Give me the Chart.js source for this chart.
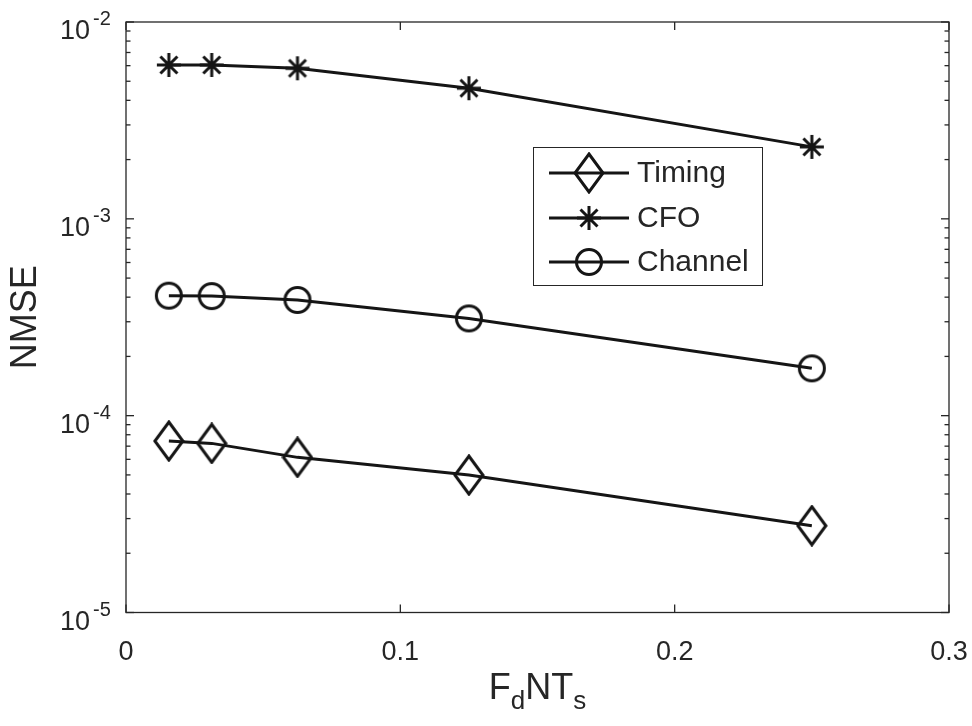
<!DOCTYPE html>
<html>
<head>
<meta charset="utf-8">
<title>NMSE vs FdNTs</title>
<script src="https://cdn.jsdelivr.net/npm/chart.js@4.4.1/dist/chart.umd.min.js"></script>
<style>
  html, body { margin: 0; padding: 0; background: #fff; }
  canvas { display: block; }
</style>
</head>
<body>
<canvas id="nmseChart" width="972" height="726"></canvas>
<script>
// normalized Doppler values on the x axis
const xValues = [1 / 64, 1 / 32, 1 / 16, 1 / 8, 1 / 4];

// NMSE of each estimate
const timingNmse = [7.43e-5, 7.23e-5, 6.14e-5, 4.99e-5, 2.76e-5];
const cfoNmse = [6.05e-3, 6.05e-3, 5.82e-3, 4.61e-3, 2.32e-3];
const channelNmse = [4.07e-4, 4.05e-4, 3.87e-4, 3.12e-4, 1.74e-4];

const seriesNames = ["Timing", "CFO", "Channel"];
const xTicks = [0, 0.1, 0.2, 0.3];
const xTickLabels = ["0", "0.1", "0.2", "0.3"];
const yExponents = [-5, -4, -3, -2];

const axisColor = "#262626";
const lineColor = "#151515";
const fontFamily = "'Liberation Sans', Arial, Helvetica, sans-serif";

// open markers drawn once on small canvases, used as point styles
function makeMarker(kind) {
  const c = document.createElement("canvas");
  // size first: resizing a canvas resets its context state
  if (kind === "diamond") { c.width = 32; c.height = 42; }
  else if (kind === "star") { c.width = 30; c.height = 30; }
  else { c.width = 34; c.height = 34; }
  const g = c.getContext("2d");
  g.strokeStyle = lineColor;
  g.lineWidth = 3;
  g.lineJoin = "miter";
  g.beginPath();
  if (kind === "diamond") {
    g.moveTo(16, 2); g.lineTo(30, 21); g.lineTo(16, 40); g.lineTo(2, 21);
    g.closePath();
  } else if (kind === "star") {
    const r = 12, cx = 15, cy = 15, d = r * Math.SQRT1_2;
    g.moveTo(cx, cy - r); g.lineTo(cx, cy + r);
    g.moveTo(cx - r, cy); g.lineTo(cx + r, cy);
    g.moveTo(cx - d, cy - d); g.lineTo(cx + d, cy + d);
    g.moveTo(cx - d, cy + d); g.lineTo(cx + d, cy - d);
  } else {
    g.arc(17, 17, 12.5, 0, Math.PI * 2);
  }
  g.stroke();
  return c;
}

const markers = [makeMarker("diamond"), makeMarker("star"), makeMarker("circle")];
const seriesValues = [timingNmse, cfoNmse, channelNmse];

const datasets = seriesNames.map((name, k) => ({
  label: name,
  data: xValues.map((x, i) => ({ x: x, y: seriesValues[k][i] })),
  borderColor: lineColor,
  borderWidth: 3,
  pointStyle: markers[k],
  pointRadius: 12,
  fill: false,
  tension: 0
}));

function segment(ctx, x1, y1, x2, y2) {
  ctx.beginPath();
  ctx.moveTo(x1, y1);
  ctx.lineTo(x2, y2);
  ctx.stroke();
}

// box, inward ticks, tick labels, axis titles and the legend
const axesPlugin = {
  id: "matlabAxes",
  afterDraw(chart) {
    const { ctx, chartArea: a } = chart;
    const xs = chart.scales.x, ys = chart.scales.y;
    ctx.save();

    ctx.strokeStyle = axisColor;
    ctx.lineWidth = 1.3;
    ctx.strokeRect(a.left, a.top, a.right - a.left, a.bottom - a.top);

    xTicks.forEach(v => {
      const px = xs.getPixelForValue(v);
      segment(ctx, px, a.bottom, px, a.bottom - 8);
      segment(ctx, px, a.top, px, a.top + 8);
    });

    const eLast = yExponents[yExponents.length - 1];
    for (let e = yExponents[0]; e <= eLast; e++) {
      for (let m = 1; m <= 9; m++) {
        if (e === eLast && m > 1) break;
        const py = ys.getPixelForValue(m * Math.pow(10, e));
        const len = m === 1 ? 8 : 4.5;
        segment(ctx, a.left, py, a.left + len, py);
        segment(ctx, a.right, py, a.right - len, py);
      }
    }

    ctx.fillStyle = axisColor;

    // x tick labels
    ctx.font = "27px " + fontFamily;
    ctx.textAlign = "center";
    ctx.textBaseline = "alphabetic";
    xTicks.forEach((v, i) => {
      ctx.fillText(xTickLabels[i], xs.getPixelForValue(v), a.bottom + 47.5);
    });

    // y tick labels as powers of ten
    yExponents.forEach(e => {
      const py = ys.getPixelForValue(Math.pow(10, e));
      ctx.font = "27px " + fontFamily;
      ctx.textAlign = "right";
      ctx.fillText("10", a.left - 36, py + 17);
      ctx.font = "20px " + fontFamily;
      ctx.textAlign = "left";
      ctx.fillText(String(e), a.left - 33, py + 3);
    });

    // y axis title
    ctx.save();
    ctx.translate(26, (a.top + a.bottom) / 2);
    ctx.rotate(-Math.PI / 2);
    ctx.font = "36px " + fontFamily;
    ctx.textAlign = "center";
    ctx.textBaseline = "middle";
    ctx.fillText("NMSE", 0, 0);
    ctx.restore();

    // x axis title F_d N T_s
    const parts = [
      { t: "F", sub: false }, { t: "d", sub: true },
      { t: "NT", sub: false }, { t: "s", sub: true }
    ];
    const bigFont = "36px " + fontFamily, smallFont = "26px " + fontFamily;
    let total = 0;
    parts.forEach(p => {
      ctx.font = p.sub ? smallFont : bigFont;
      p.w = ctx.measureText(p.t).width;
      total += p.w;
    });
    let tx = (a.left + a.right) / 2 - total / 2;
    const baseY = 699;
    ctx.textAlign = "left";
    ctx.textBaseline = "alphabetic";
    parts.forEach(p => {
      ctx.font = p.sub ? smallFont : bigFont;
      ctx.fillText(p.t, tx, p.sub ? baseY + 10 : baseY);
      tx += p.w;
    });

    // legend box
    const lx = 533.5, ly = 147.5, lw = 229, lh = 138;
    ctx.fillStyle = "#fff";
    ctx.fillRect(lx, ly, lw, lh);
    ctx.strokeStyle = axisColor;
    ctx.lineWidth = 1;
    ctx.strokeRect(lx, ly, lw, lh);
    const rowY = [173, 218, 262];
    seriesNames.forEach((name, k) => {
      ctx.strokeStyle = lineColor;
      ctx.lineWidth = 3;
      segment(ctx, 549, rowY[k], 629, rowY[k]);
      const mk = markers[k];
      ctx.drawImage(mk, 589 - mk.width / 2, rowY[k] - mk.height / 2);
      ctx.fillStyle = axisColor;
      ctx.font = "30px " + fontFamily;
      ctx.textAlign = "left";
      ctx.textBaseline = "middle";
      ctx.fillText(name, 637, rowY[k] + 1);
    });

    ctx.restore();
  }
};

new Chart(document.getElementById("nmseChart"), {
  type: "line",
  data: { datasets: datasets },
  options: {
    responsive: false,
    animation: false,
    devicePixelRatio: 1,
    layout: { padding: { left: 126, top: 22, right: 23, bottom: 113.5 } },
    plugins: { legend: { display: false }, tooltip: { enabled: false } },
    scales: {
      x: { type: "linear", min: 0, max: 0.3, display: false },
      y: { type: "logarithmic", min: 1e-5, max: 1e-2, display: false }
    }
  },
  plugins: [axesPlugin]
});
</script>
</body>
</html>
